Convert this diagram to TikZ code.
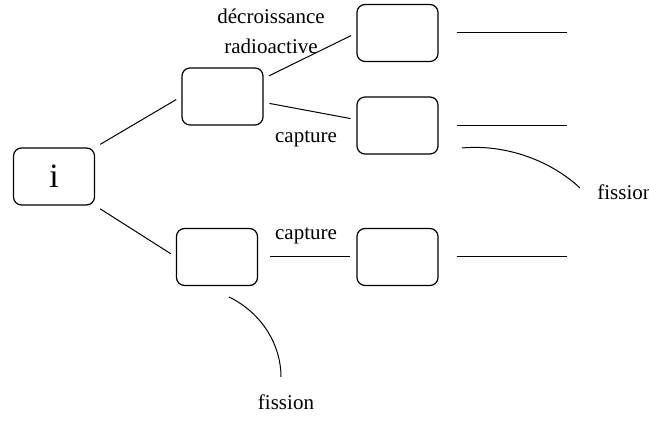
\documentclass[tikz,border=0pt]{standalone}
\usepackage{fontspec}
\setmainfont{Liberation Serif}
\usetikzlibrary{calc}

\begin{document}
\begin{tikzpicture}[x=0.5pt, y=-0.5pt,
        every node/.style={font=\fontsize{10.5}{15}\selectfont},
        etat/.style={draw, rounded corners=4pt, line width=0.6pt, inner sep=0pt,
                     minimum width=40.5pt, minimum height=28.5pt},
        lien/.style={line width=0.5pt, shorten <=3pt, shorten >=3pt}]

            \useasboundingbox (0,0) rectangle (649,421);

            % les etats
            \node[etat, font=\fontsize{17}{20}\selectfont] (noyau) at (54,176.5) {i};
            \node[etat] (haut) at (222.5,96.5) {};
            \node[etat] (hautA) at (397.5,33) {};
            \node[etat] (hautB) at (397.5,125.5) {};
            \node[etat] (bas) at (217,257) {};
            \node[etat] (basA) at (397.5,257) {};

            % les textes
            \node[align=center] (decr) at (271,31) {décroissance\\radioactive};
            \node[anchor=base] (capt1) at (306,143) {capture};
            \node[anchor=base] (capt2) at (306,240) {capture};
            \node[anchor=base west, inner sep=0pt] (fis1) at (597,200) {fission};
            \node[anchor=base] (fis2) at (286,410) {fission};

            % les liens
            \draw[lien] (noyau.north east)--(haut.west);
            \draw[lien] (noyau.south east)--(bas.west);
            \draw[lien] ($(haut.north east)!0.19!(haut.south east)$)--(hautA.west);
            \draw[lien] ($(haut.north east)!0.6!(haut.south east)$)--($(hautB.north west)!0.4!(hautB.south west)$);
            \draw[lien, shorten <=6pt] (bas.east)--(basA.west);

            % les sorties
            \coordinate (finA) at (567,33);
            \coordinate (finB) at (567,125.5);
            \coordinate (finC) at (567,257);
            \draw[line width=0.5pt] ([xshift=9pt]hautA.east)--(finA);
            \draw[line width=0.5pt] ([xshift=9pt]hautB.east)--(finB);
            \draw[line width=0.5pt] ([xshift=9pt]basA.east)--(finC);

            % les fissions
            \coordinate (f1) at (462,148);
            \coordinate (f1b) at (580,188);
            \coordinate (f2) at (229,297);
            \coordinate (f2b) at (281,377);
            \draw[line width=0.5pt] (f1) .. controls (505,144) and (550,160) .. (f1b);
            \draw[line width=0.5pt] (f2) .. controls (262,313) and (281,345) .. (f2b);

        \end{tikzpicture}
\end{document}
